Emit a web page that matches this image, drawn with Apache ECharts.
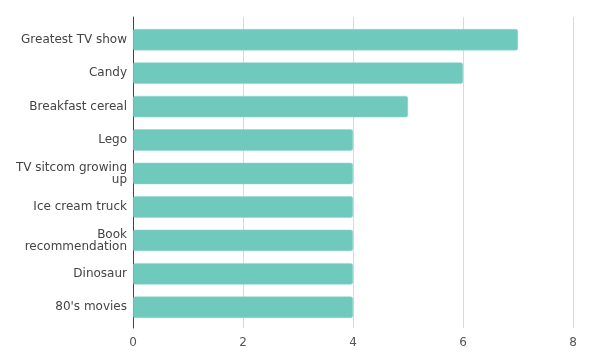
<!DOCTYPE html>
<html><head><meta charset="utf-8">
<script src="https://cdn.jsdelivr.net/npm/echarts@6/dist/echarts.min.js"></script>
<style>html,body{margin:0;padding:0;background:#fff}#c{width:600px;height:362px}</style>
</head><body><div id="c"></div>
<script>
const categories = ["Greatest TV show","Candy","Breakfast cereal","Lego","TV sitcom growing up","Ice cream truck","Book recommendation","Dinosaur","80's movies"];
const values = [7,6,5,4,4,4,4,4,4];
const xTicks = {min:0, max:8, interval:2};

function wrap(s, maxChars){
  const words = s.split(' ');
  const lines = [];
  let cur = '';
  words.forEach(w=>{
    if(cur && (cur + ' ' + w).length > maxChars){ lines.push(cur); cur = w; }
    else cur = cur ? cur + ' ' + w : w;
  });
  if(cur) lines.push(cur);
  return lines.join('\n');
}

const font = 'DejaVu Sans';
const chart = echarts.init(document.getElementById('c'), null, {renderer:'canvas'});
chart.setOption({
  animation:false,
  grid:[
    {left:133, right:27, top:23, bottom:38},
    {left:133, right:27, top:17, bottom:34}
  ],
  xAxis:[
    {gridIndex:0, type:'value', min:xTicks.min, max:xTicks.max, interval:xTicks.interval, show:false},
    {gridIndex:1, type:'value', min:xTicks.min, max:xTicks.max, interval:xTicks.interval,
     axisLine:{show:false}, axisTick:{show:false},
     splitLine:{show:true, lineStyle:{color:'#d9d9d9', width:1}},
     axisLabel:{color:'#555', fontFamily:font, fontSize:12, margin:9}}
  ],
  yAxis:[
    {gridIndex:0, type:'category', inverse:true, data:categories,
     axisLine:{show:false}, axisTick:{show:false},
     axisLabel:{color:'#444', fontFamily:font, fontSize:12, margin:6, lineHeight:12, align:'right',
       formatter:v=>wrap(v,17)}},
    {gridIndex:1, type:'category', data:[''], axisLine:{show:true, lineStyle:{color:'#444', width:1}},
     axisTick:{show:false}, axisLabel:{show:false}}
  ],
  series:[{
    type:'bar', xAxisIndex:0, yAxisIndex:0, data:values, barCategoryGap:'36%',
    itemStyle:{color:'#6fc9bd', borderRadius:2, borderColor:'#8fd6cc', borderWidth:0.5}
  }]
});
</script></body></html>
